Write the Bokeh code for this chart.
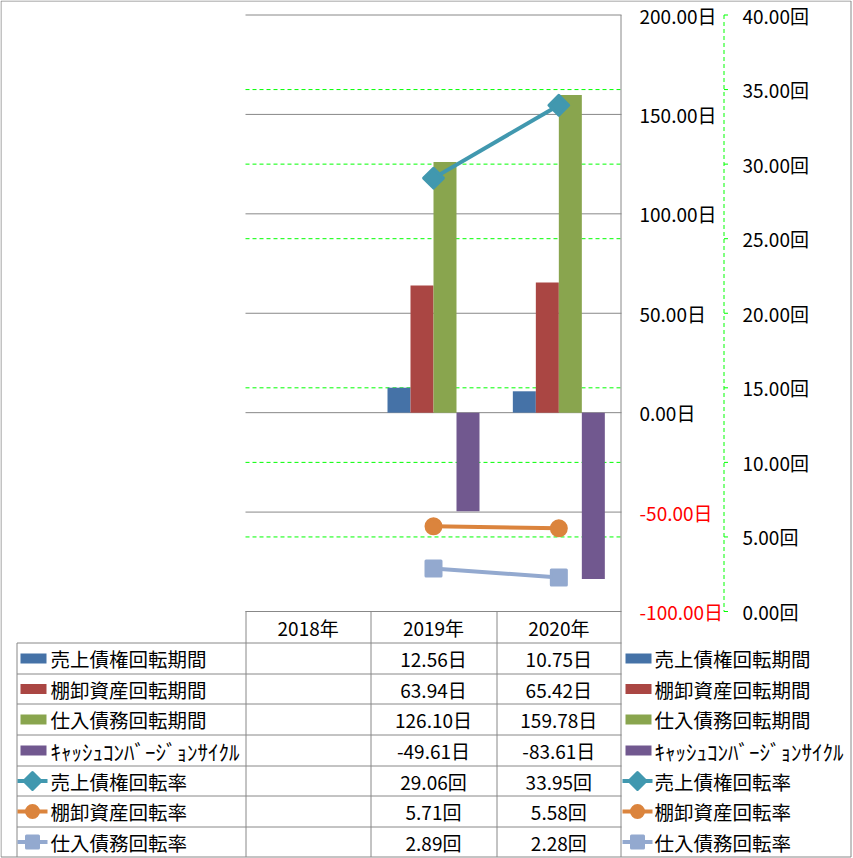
import numpy as np
from bokeh.plotting import figure
from bokeh.models import Range1d, ColumnDataSource
from bokeh.core.properties import value
from bokeh.embed import file_html
from bokeh.resources import INLINE

# ---------------- data ----------------
years = ["2018年", "2019年", "2020年"]
bar_names = ["売上債権回転期間", "棚卸資産回転期間", "仕入債務回転期間", "ｷｬｯｼｭｺﾝﾊﾞｰｼﾞｮﾝｻｲｸﾙ"]
ar_days = [None, 12.56, 10.75]
inv_days = [None, 63.94, 65.42]
ap_days = [None, 126.10, 159.78]
ccc_days = [None, -49.61, -83.61]
line_names = ["売上債権回転率", "棚卸資産回転率", "仕入債務回転率"]
ar_turn = [None, 29.06, 33.95]
inv_turn = [None, 5.71, 5.58]
ap_turn = [None, 2.89, 2.28]
day_ticks = [-100, -50, 0, 50, 100, 150, 200]
turn_ticks = [0, 5, 10, 15, 20, 25, 30, 35, 40]

# ---------------- styles / layout ----------------
bar_colors = ["#4572A7", "#AA4643", "#89A54E", "#71588F"]
line_colors = ["#4198AF", "#DB843D", "#93A9CF"]
line_markers = [("square", np.pi / 4), ("circle", 0.0), ("square", 0.0)]
GRAY = "#888888"
GREEN = "#00FF00"
FONT = value("Noto Sans CJK JP")
FS = "19.5px"
FS_NUM = "19px"
FS_KANA = "21px"

W, H = 853, 858
L, R, T, B = 245.0, 621.0, 14.5, 611.0
DAY_MIN, DAY_MAX = day_ticks[0], day_ticks[-1]
TURN_MIN, TURN_MAX = turn_ticks[0], turn_ticks[-1]
ncat = len(years)
cw = (R - L) / ncat
ppd = (B - T) / (DAY_MAX - DAY_MIN)
ppt = (B - T) / (TURN_MAX - TURN_MIN)

p = figure(width=W, height=H,
           x_range=Range1d(-L / cw, (W - L) / cw),
           y_range=Range1d(DAY_MIN - (H - B) / ppd, DAY_MAX + T / ppd),
           output_backend="svg", toolbar_location=None,
           x_axis_location=None, y_axis_location=None,
           min_border=0, outline_line_color=None,
           background_fill_color="white", border_fill_color="white")
p.grid.visible = False
p.extra_y_ranges = {"turn": Range1d(TURN_MIN - (H - B) / ppt, TURN_MAX + T / ppt),
                    "py": Range1d(H, 0)}
p.extra_x_ranges = {"px": Range1d(0, W)}

# ---------------- gridlines ----------------
p.segment(x0=L, x1=R, y0=day_ticks, y1=day_ticks, x_range_name="px",
          line_color=GRAY, line_width=1)
inner_turn = [t for t in turn_ticks[1:-1] if t != 20]
p.segment(x0=L, x1=R, y0=inner_turn, y1=inner_turn, x_range_name="px",
          y_range_name="turn", line_color=GREEN, line_width=1, line_dash="4 3")

# ---------------- bars ----------------
bw = 23.0 / cw
bar_series = [ar_days, inv_days, ap_days, ccc_days]
nb = len(bar_series)
for k, (vals, col) in enumerate(zip(bar_series, bar_colors)):
    xs = [i + 0.5 + (k - (nb - 1) / 2) * bw for i, v in enumerate(vals) if v is not None]
    ys = [v for v in vals if v is not None]
    p.vbar(x=xs, top=ys, bottom=0, width=bw, fill_color=col, line_color=None)

# ---------------- lines ----------------
line_series = [ar_turn, inv_turn, ap_turn]
msizes = [14, 15, 15]
for vals, col, (mk, ang), ms in zip(line_series, line_colors, line_markers, msizes):
    xs = [i + 0.5 for i, v in enumerate(vals) if v is not None]
    ys = [v for v in vals if v is not None]
    p.line(xs, ys, y_range_name="turn", line_color=col, line_width=4)
    p.scatter(xs, ys, y_range_name="turn", marker=mk, angle=ang, size=ms,
              fill_color=col, line_color=col, line_width=3, line_join="round")

# ---------------- axes ----------------
p.segment(x0=[620.5], x1=[620.5], y0=[T], y1=[856.5], x_range_name="px",
          y_range_name="py", line_color=GRAY, line_width=1)
day_labels = [f"{v:.2f}日" for v in day_ticks]
day_label_colors = ["#FF0000" if v < 0 else "#000000" for v in day_ticks]
p.text(x=[639] * len(day_ticks), y=day_ticks, text=day_labels, x_range_name="px",
       text_color=day_label_colors, text_font=FONT, text_font_size=FS_NUM,
       text_align="left", text_baseline="middle")
AX2 = 723.5
p.segment(x0=[AX2], x1=[AX2], y0=[T], y1=[B], x_range_name="px", y_range_name="py",
          line_color=GREEN, line_width=1, line_dash="4 3")
p.segment(x0=AX2, x1=AX2 + 4, y0=turn_ticks, y1=turn_ticks, x_range_name="px",
          y_range_name="turn", line_color=GREEN, line_width=1)
turn_labels = [f"{v:.2f}回" for v in turn_ticks]
p.text(x=[742] * len(turn_ticks), y=turn_ticks, text=turn_labels, x_range_name="px",
       y_range_name="turn", text_color="#000000", text_font=FONT, text_font_size=FS_NUM,
       text_align="left", text_baseline="middle")

# ---------------- data table ----------------
row_edges = [610.5, 642.5, 673.5, 703.5, 734.5, 765.5, 795.5, 826.5, 856.5]
col_edges = [L, L + cw, L + 2 * cw, R]
LEG_L = 16.5
hl = row_edges[1:-1]
p.segment(x0=LEG_L, x1=R, y0=hl, y1=hl, x_range_name="px", y_range_name="py",
          line_color=GRAY, line_width=1)
p.segment(x0=[LEG_L], x1=[LEG_L], y0=[row_edges[1]], y1=[row_edges[-1]],
          x_range_name="px", y_range_name="py", line_color=GRAY, line_width=1)
vx = [round(c) + 0.5 for c in col_edges[:-1]]
p.segment(x0=vx, x1=vx, y0=row_edges[0], y1=row_edges[-1],
          x_range_name="px", y_range_name="py", line_color=GRAY, line_width=1)

centers_x = [L + (i + 0.5) * cw for i in range(ncat)]
row_c = [(row_edges[i] + row_edges[i + 1]) / 2 for i in range(len(row_edges) - 1)]
p.text(x=centers_x, y=[row_c[0]] * ncat, text=years, x_range_name="px", y_range_name="py",
       text_font=FONT, text_font_size=FS_NUM, text_align="center", text_baseline="middle",
       text_color="#000000")
all_series = bar_series + line_series
units = ["日"] * len(bar_series) + ["回"] * len(line_series)
cx, cy, ct = [], [], []
for r, (vals, u) in enumerate(zip(all_series, units)):
    for i, v in enumerate(vals):
        if v is None:
            continue
        cx.append(centers_x[i]); cy.append(row_c[r + 1]); ct.append(f"{v:.2f}{u}")
p.text(x=cx, y=cy, text=ct, x_range_name="px", y_range_name="py",
       text_font=FONT, text_font_size=FS_NUM, text_align="center", text_baseline="middle",
       text_color="#000000")

# ---------------- legend keys (table + right) ----------------
names = bar_names + line_names
name_sizes = [FS_KANA if any("\uff61" <= ch <= "\uff9f" for ch in n) else FS for n in names]
for key_l, key_r, text_x in [(20, 46, 50), (625, 651, 654)]:
    ys = row_c[1:]
    for k, col in enumerate(bar_colors):
        p.quad(left=key_l, right=key_r, top=ys[k] - 5, bottom=ys[k] + 5,
               x_range_name="px", y_range_name="py", fill_color=col, line_color=None)
    for j, (col, (mk, ang)) in enumerate(zip(line_colors, line_markers)):
        yk = ys[len(bar_colors) + j]
        p.segment(x0=[key_l - 3], x1=[key_r + 1], y0=[yk], y1=[yk], x_range_name="px",
                  y_range_name="py", line_color=col, line_width=4)
        p.scatter(x=[(key_l + key_r) / 2 - 1], y=[yk], x_range_name="px", y_range_name="py",
                  marker=mk, angle=ang, size=12, fill_color=col, line_color=col,
                  line_width=3, line_join="round")
    src = ColumnDataSource(dict(x=[text_x] * len(names), y=ys, t=names, fs=name_sizes))
    p.text(x="x", y="y", text="t", text_font_size="fs", source=src,
           x_range_name="px", y_range_name="py",
           text_font=FONT, text_align="left", text_baseline="middle",
           text_color="#000000")

# ---------------- outer border ----------------
p.quad(left=0.5, right=850.5, top=0.5, bottom=856.5, x_range_name="px", y_range_name="py",
       fill_color=None, line_color=GRAY, line_width=1)

open("out.html", "w").write(file_html(p, INLINE))
